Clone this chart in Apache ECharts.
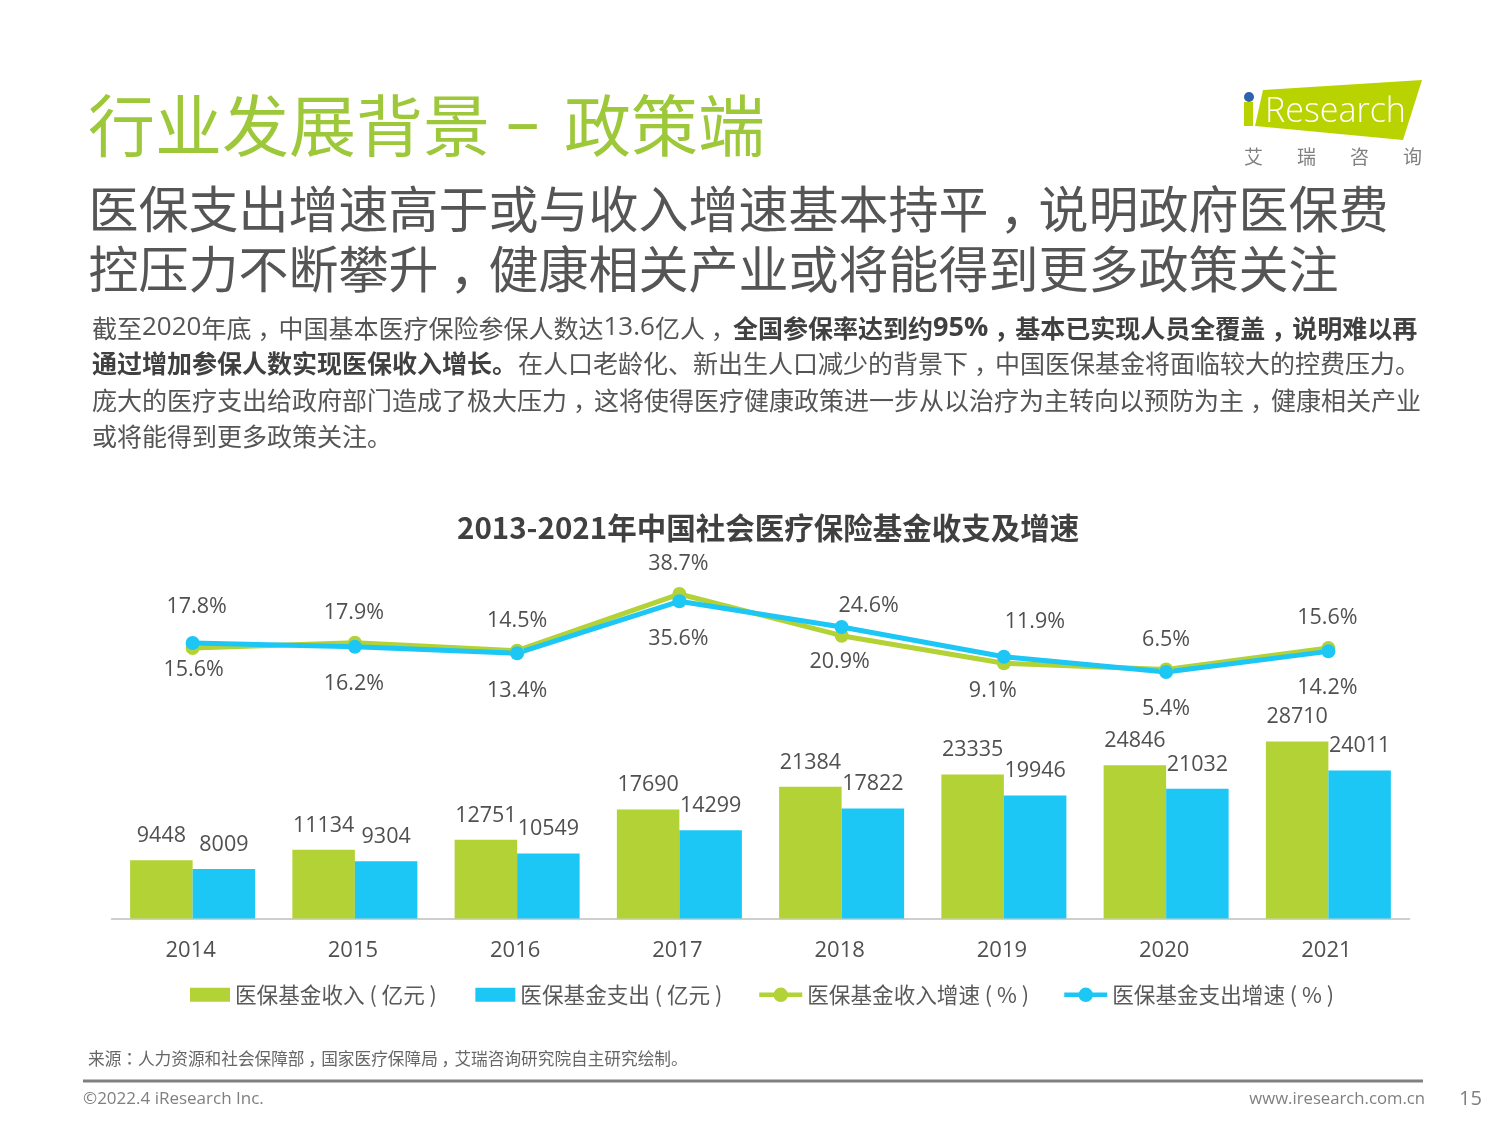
<!DOCTYPE html>
<html><head><meta charset="utf-8">
<style>html,body{margin:0;padding:0;background:#fff}#c{width:1500px;height:1125px}</style>
<script src="https://cdn.jsdelivr.net/npm/echarts@6/dist/echarts.min.js"></script>
</head><body><div id="c"></div>
<script>
const years = ['2014','2015','2016','2017','2018','2019','2020','2021'];
const incomeValues = [9448,11134,12751,17690,21384,23335,24846,28710];
const spendValues = [8009,9304,10549,14299,17822,19946,21032,24011];
const incomeGrowth = [15.6,17.9,14.5,38.7,20.9,9.1,6.5,15.6];
const spendGrowth = [17.8,16.2,13.4,35.6,24.6,11.9,5.4,14.2];
const incomeLabelShift = [[1,22],[-1,-30],[0,-29.5],[-1,-30],[-2,26],[-11,28],[0,-30],[-1,-30.5]];
const spendLabelShift = [[4,-36],[-1,37],[0,38],[-1,38],[27,-21.5],[31,-34.5],[0,37],[-1,37]];
const nameIncome='医保基金收入 ( 亿元 )', nameSpend='医保基金支出 ( 亿元 )',
      nameIncomeG='医保基金收入增速 ( % )', nameSpendG='医保基金支出增速 ( % )';
const GREEN='#B2D235', BLUE='#1CC7F5', INK='#505050';
const CJK='"Noto Sans CJK SC","Noto Sans",sans-serif', LAT='"Open Sans","Noto Sans CJK SC",sans-serif', TC='"Noto Sans CJK TC",sans-serif';

const T=(x,y,text,size,fill,extra)=>({type:'text',x,y,silent:true,style:Object.assign({text,font:`${size}px ${CJK}`,fill,textVerticalAlign:'middle'},extra||{})});
/* real text; full-width commas are nudged to the middle of their cell, digits use a Latin face */
const R=(x,y,parts,size,fill,weight,commaCell)=>{
  const w=weight||'normal';
  const cell=commaCell||size;
  const inset=cell*0.22;
  const dsize=w==='bold'?size*1.08:size*1.04;
  const rich={
    t:{font:`${w} ${size}px ${CJK}`,fill},
    p:{font:`${w} ${size}px ${TC}`,fill},
    c:{font:`${w} ${size}px ${CJK}`,fill,width:cell-inset,padding:[0,0,0,inset]},
    d:{font:`${w} ${dsize}px ${LAT}`,fill}
  };
  const text=parts.replace(/[^，：]+|[，：]/g,s=>{
    if(s==='，')return `{c|${s}}`;
    if(s==='：')return `{p|${s}}`;
    return s.replace(/[0-9.%]+|[^0-9.%]+/g,q=>/^[0-9.%]+$/.test(q)?`{d|${q}}`:`{t|${q}}`);
  });
  return {type:'text',x,y,silent:true,style:{text,rich,textVerticalAlign:'middle'}};
};
const graphic=[
  T(88,126,'行业发展背景',67,'#9DC83A'),
  T(506,126,'–',67,'#9DC83A',{font:`67px ${LAT}`}),
  T(564,126,'政策端',67,'#9DC83A'),
  R(88.5,209,'医保支出增速高于或与收入增速基本持平，说明政府医保费',50,'#555'),
  R(88.5,269,'控压力不断攀升，健康相关产业或将能得到更多政策关注',50,'#555'),
  R(92,328,'截至2020年底，中国基本医疗保险参保人数达13.6亿人，',25,'#555','normal',27),
  R(733,328,'全国参保率达到约95%，基本已实现人员全覆盖，说明难以再',25,'#404040','bold',27),
  R(92,363.5,'通过增加参保人数实现医保收入增长。',25,'#404040','bold'),
  R(518,363.5,'在人口老龄化、新出生人口减少的背景下，中国医保基金将面临较大的控费压力。',25,'#555','normal',27),
  R(92,400.5,'庞大的医疗支出给政府部门造成了极大压力，这将使得医疗健康政策进一步从以治疗为主转向以预防为主，健康相关产业',25,'#555','normal',27),
  R(92,436.5,'或将能得到更多政策关注。',25,'#555'),
  {type:'polygon',silent:true,shape:{points:[[1263,90],[1422,80],[1403,140],[1255,126]]},style:{fill:'#B9D300'}},
  {type:'rect',silent:true,shape:{x:1244,y:102,width:9,height:24},style:{fill:'#B9D300'}},
  {type:'circle',silent:true,shape:{cx:1249,cy:97,r:5},style:{fill:'#2E62AE'}},
  T(1265,112,'Research',34,'#fff',{font:`300 34px "Open Sans",sans-serif`}),
  T(1244,157,'艾',19,'#808080'),T(1297,157,'瑞',19,'#808080'),T(1350,157,'咨',19,'#808080'),T(1403,157,'询',19,'#808080'),
  R(88,1058.5,'来源：人力资源和社会保障部，国家医疗保障局，艾瑞咨询研究院自主研究绘制。',16.67,'#666'),
  {type:'line',silent:true,shape:{x1:83,y1:1081,x2:1423,y2:1081},style:{stroke:'#808080',lineWidth:3}},
  T(83,1099,'©2022.4 iResearch Inc.',17,'#7f7f7f',{font:`17px ${LAT}`}),
  T(1425,1099,'www.iresearch.com.cn',16.7,'#7f7f7f',{font:`16.7px ${LAT}`,textAlign:'right'}),
  T(1459,1099,'15',20,'#7f7f7f',{font:`20px ${LAT}`})
];
const barLabel={show:true,position:'top',distance:13.5,color:INK,fontFamily:LAT,fontSize:21.5};
const lineData=(vals,shift)=>vals.map((v,i)=>({value:v,label:{offset:shift[i]}}));
const lineLabel={show:true,position:'inside',color:INK,fontFamily:LAT,fontSize:21.5,formatter:p=>p.value.toFixed(1)+'%'};
const legendBase={orient:'horizontal',padding:0,textStyle:{fontFamily:CJK,fontSize:21.6,color:'#595959'},selectedMode:false};
const chart=echarts.init(document.getElementById('c'),null,{renderer:'canvas'});
chart.setOption({
  animation:false,backgroundColor:'#fff',
  title:{text:'2013-2021年中国社会医疗保险基金收支及增速',left:457,top:513,padding:0,textStyle:{fontFamily:CJK,fontSize:29.5,fontWeight:'bold',color:'#404040'}},
  legend:[
    Object.assign({},legendBase,{left:190,top:984,itemWidth:40,itemHeight:14,itemGap:38.5,data:[{name:nameIncome,icon:'rect'},{name:nameSpend,icon:'rect'}]}),
    Object.assign({},legendBase,{left:757,top:984,itemWidth:43,itemHeight:18,itemGap:33,lineStyle:{width:4.5},data:[nameIncomeG,nameSpendG]})
  ],
  grid:[{left:111.5,width:1298,top:733.5,height:185},{left:111.5,width:1298,top:591,height:93.6}],
  xAxis:[
    {type:'category',gridIndex:0,data:years,axisTick:{show:false},axisLine:{lineStyle:{color:'#BFBFBF',width:1.5}},
     axisLabel:{color:INK,fontFamily:LAT,fontSize:22,margin:21.5,padding:[0,4,0,0]}},
    {type:'category',gridIndex:1,data:years,show:false}
  ],
  yAxis:[
    {type:'value',gridIndex:0,min:0,max:30000,show:false,splitLine:{show:false}},
    {type:'value',gridIndex:1,min:0,max:40,show:false,splitLine:{show:false}}
  ],
  series:[
    {name:nameIncome,type:'bar',xAxisIndex:0,yAxisIndex:0,data:incomeValues,barWidth:62.5,barGap:0,itemStyle:{color:GREEN},label:barLabel},
    {name:nameSpend,type:'bar',xAxisIndex:0,yAxisIndex:0,data:spendValues,barWidth:62.5,barGap:0,itemStyle:{color:BLUE},label:barLabel},
    {name:nameIncomeG,type:'line',xAxisIndex:1,yAxisIndex:1,data:lineData(incomeGrowth,incomeLabelShift),symbol:'circle',symbolSize:14,showAllSymbol:true,lineStyle:{color:GREEN,width:5},itemStyle:{color:GREEN},label:lineLabel},
    {name:nameSpendG,type:'line',xAxisIndex:1,yAxisIndex:1,data:lineData(spendGrowth,spendLabelShift),symbol:'circle',symbolSize:14,showAllSymbol:true,lineStyle:{color:BLUE,width:5},itemStyle:{color:BLUE},label:lineLabel}
  ],
  graphic:{elements:graphic}
});
</script></body></html>
